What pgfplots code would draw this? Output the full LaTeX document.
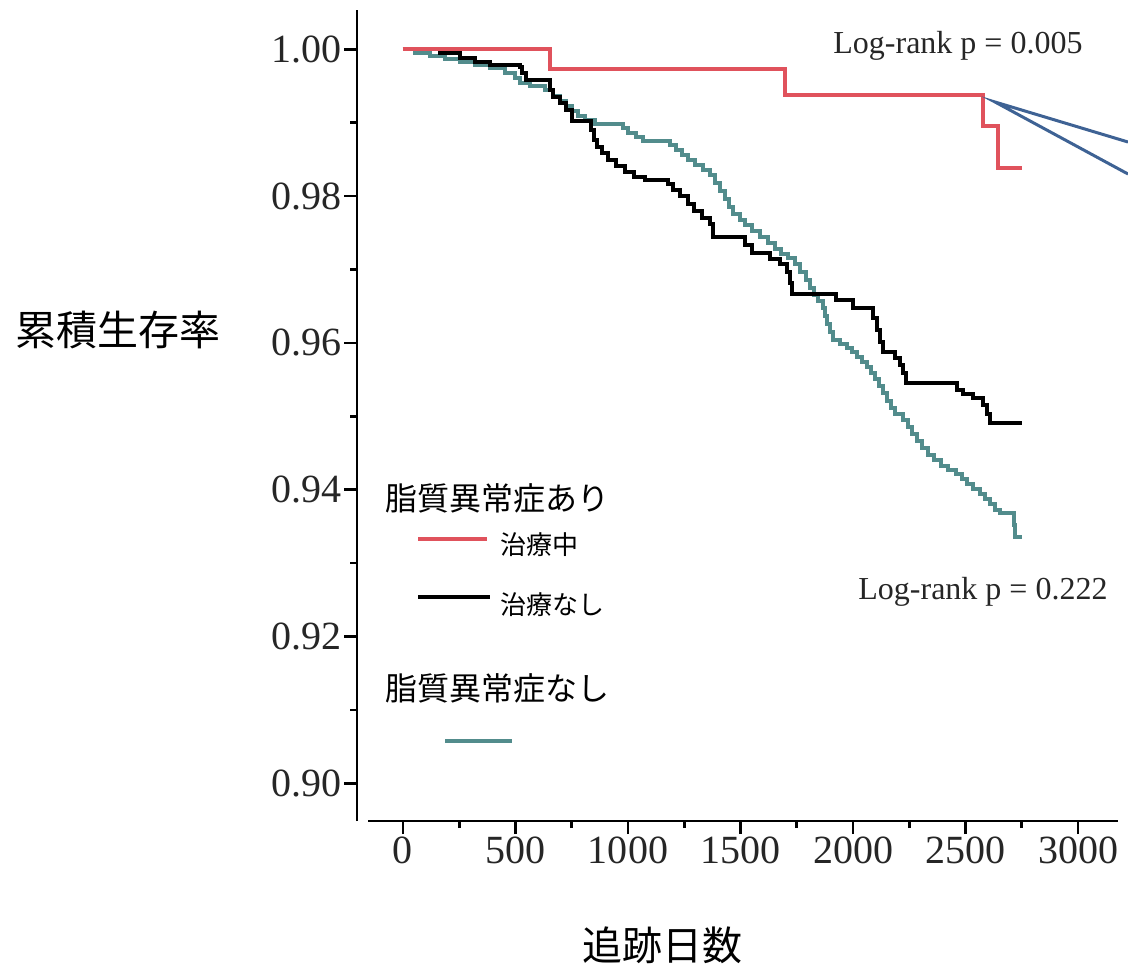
\documentclass[border=0pt]{standalone}
\usepackage{fontspec}
\setmainfont{Liberation Serif}
\newfontfamily\jp{Noto Sans CJK JP}
\usepackage{pgfplots}
\usepackage{pgfplotstable}
\pgfplotsset{compat=1.18}
\definecolor{kmred}{RGB}{224,82,92}
\definecolor{kmteal}{RGB}{82,140,140}
\definecolor{kmblue}{RGB}{62,98,148}

\pgfplotstableread{
d v
0 1.0000
653 0.9973
1698 0.9938
2578 0.9895
2644 0.9838
2750 0.9838
}\reddata

\pgfplotstableread{
d v
0 1.0000
164 0.9995
253 0.9988
320 0.9983
387 0.9979
520 0.9976
529 0.9968
547 0.9958
653 0.9945
667 0.9935
698 0.9927
724 0.9917
751 0.9902
836 0.9890
849 0.9876
862 0.9867
884 0.9859
911 0.9849
947 0.9841
987 0.9833
1027 0.9826
1076 0.9822
1178 0.9816
1200 0.9808
1231 0.9800
1267 0.9789
1293 0.9780
1329 0.9770
1364 0.9762
1378 0.9744
1520 0.9733
1551 0.9722
1631 0.9714
1676 0.9707
1707 0.9697
1720 0.9682
1729 0.9667
1924 0.9658
2000 0.9648
2089 0.9634
2107 0.9618
2120 0.9601
2133 0.9588
2187 0.9579
2209 0.9570
2222 0.9559
2236 0.9545
2462 0.9536
2489 0.9530
2533 0.9525
2578 0.9515
2596 0.9503
2609 0.9491
2751 0.9491
}\blackdata

\pgfplotstableread{
d v
0 1.0000
53 0.9995
120 0.9991
187 0.9987
253 0.9983
320 0.9979
387 0.9975
453 0.9968
498 0.9961
520 0.9954
564 0.9950
631 0.9945
667 0.9936
698 0.9930
724 0.9923
751 0.9916
778 0.9909
809 0.9904
853 0.9898
978 0.9893
1000 0.9886
1036 0.9881
1067 0.9875
1187 0.9870
1213 0.9863
1240 0.9856
1267 0.9849
1298 0.9842
1333 0.9836
1364 0.9829
1387 0.9818
1409 0.9807
1431 0.9796
1449 0.9785
1467 0.9776
1498 0.9767
1520 0.9761
1551 0.9752
1587 0.9744
1622 0.9736
1653 0.9728
1680 0.9721
1711 0.9716
1742 0.9707
1764 0.9697
1791 0.9686
1809 0.9675
1827 0.9665
1844 0.9657
1867 0.9648
1876 0.9637
1884 0.9626
1898 0.9615
1911 0.9604
1942 0.9598
1973 0.9593
1996 0.9588
2018 0.9581
2040 0.9574
2062 0.9567
2080 0.9559
2098 0.9551
2116 0.9541
2133 0.9532
2151 0.9521
2169 0.9511
2187 0.9503
2222 0.9495
2244 0.9485
2262 0.9476
2284 0.9466
2307 0.9457
2333 0.9447
2360 0.9440
2391 0.9432
2422 0.9427
2458 0.9421
2484 0.9415
2507 0.9408
2533 0.9401
2564 0.9394
2587 0.9387
2609 0.9381
2631 0.9372
2653 0.9368
2716 0.9352
2720 0.9335
2751 0.9335
}\tealdata

\begin{document}
\begin{tikzpicture}
\useasboundingbox[x=0.5pt,y=-0.5pt] (0,0) rectangle (1128,979);
\begin{axis}[
  at={(178.5pt,-410.5pt)}, anchor=south west,
  scale only axis, width=380.5pt, height=405.5pt,
  xmin=-204.4, xmax=3177.8, ymin=0.89486, ymax=1.005354,
  axis x line*=bottom, axis y line*=left,
  axis line style={-, line width=1.3pt, black},
  x axis line style={shorten <=5.5pt},
  xtick={0,500,1000,1500,2000,2500,3000},
  xticklabels={0,500,1000,1500,2000,2500,3000},
  minor xtick={250,750,1250,1750,2250,2750},
  ytick={0.90,0.92,0.94,0.96,0.98,1.00},
  yticklabels={0.90,0.92,0.94,0.96,0.98,1.00},
  minor ytick={0.91,0.93,0.95,0.97,0.99},
  tick align=outside, major tick length=6.5pt, minor tick length=3.5pt,
  every tick/.style={line width=1.3pt, black},
  /pgf/number format/assume math mode=true,
  scaled ticks=false,
  tick label style={font=\fontsize{20}{24}\selectfont, text=black!85, inner sep=1pt},
  clip=false,
]
\addplot[const plot, kmteal, line width=2pt] table {\tealdata};
\addplot[const plot, black, line width=2pt] table {\blackdata};
\addplot[const plot, kmred, line width=2pt] table {\reddata};
\end{axis}
\begin{scope}[x=0.5pt,y=-0.5pt]
  % axis titles
  \node[font=\jp\fontsize{20.5}{24}\selectfont] at (118,330) {累積生存率};
  \node[font=\jp\fontsize{20}{24}\selectfont] at (662,945) {追跡日数};
  % log-rank annotations
  \node[anchor=west, inner sep=0pt, font=\fontsize{16}{19}\selectfont, text=black!85] at (833,46) {Log-rank p = 0.005};
  \node[anchor=west, inner sep=0pt, font=\fontsize{16}{19}\selectfont, text=black!85] at (858,592) {Log-rank p = 0.222};
  % pointer lines
  \draw[kmblue, line width=1.5pt] (1128,142) -- (995,102) -- (1128,174);
  % legend
  \node[anchor=west, inner sep=0pt, font=\jp\fontsize{16}{19}\selectfont] at (385,498) {脂質異常症あり};
  \draw[kmred, line width=2pt] (418,539) -- (487,539);
  \node[anchor=west, inner sep=0pt, font=\jp\fontsize{13}{15}\selectfont] at (500,545) {治療中};
  \draw[black, line width=2pt] (418,597) -- (490,597);
  \node[anchor=west, inner sep=0pt, font=\jp\fontsize{13}{15}\selectfont] at (500,605) {治療なし};
  \node[anchor=west, inner sep=0pt, font=\jp\fontsize{16}{19}\selectfont] at (385,688) {脂質異常症なし};
  \draw[kmteal, line width=2pt] (445,741) -- (512,741);
\end{scope}
\end{tikzpicture}
\end{document}
